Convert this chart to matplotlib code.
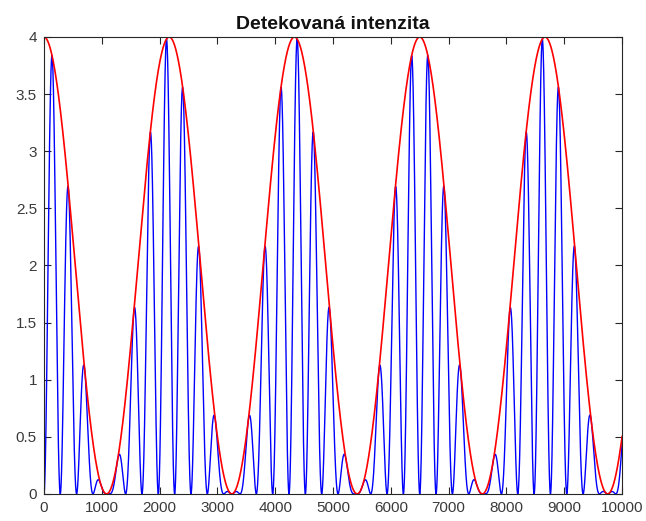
import matplotlib
matplotlib.use("Agg")
import matplotlib.pyplot as plt
import numpy as np

# values
x_max = 10000
envelope_period = 2166.7      # red: distance between maxima
fringe_period = 282.6         # blue: distance between zeros
amplitude = 4.0
x_ticks = list(range(0, 10001, 1000))
y_ticks = [0, 0.5, 1, 1.5, 2, 2.5, 3, 3.5, 4]
y_labels = ["0", "0.5", "1", "1.5", "2", "2.5", "3", "3.5", "4"]
title = "Detekovaná intenzita"

x = np.arange(0, x_max + 1, 1.0)
envelope = amplitude * np.cos(np.pi * x / envelope_period) ** 2
intensity = envelope * np.sin(np.pi * x / fringe_period) ** 2

plt.rcParams['font.family'] = ['Liberation Sans', 'DejaVu Sans']
fig = plt.figure(figsize=(6.46, 5.21), dpi=100)
ax = fig.add_axes([0.068, 0.052, 0.895, 0.877])

ax.plot(x, intensity, color=(0, 0, 1), lw=1.0)
ax.plot(x, envelope, color=(1, 0, 0), lw=1.2)

ax.set_xlim(0, x_max)
ax.set_ylim(0, 4)
ax.set_xticks(x_ticks)
ax.set_yticks(y_ticks)
ax.set_yticklabels(y_labels)
ax.tick_params(direction='in', length=5, width=0.8, colors='#262626',
               labelsize=11, top=True, right=True, pad=5)
ax.tick_params(labelcolor='#3a3a3a')
for s in ax.spines.values():
    s.set_color('#262626')
    s.set_linewidth(0.8)
ax.set_title(title, fontsize=14, fontweight='bold', color='#111111', pad=6)

fig.savefig("out.png", dpi=100)
